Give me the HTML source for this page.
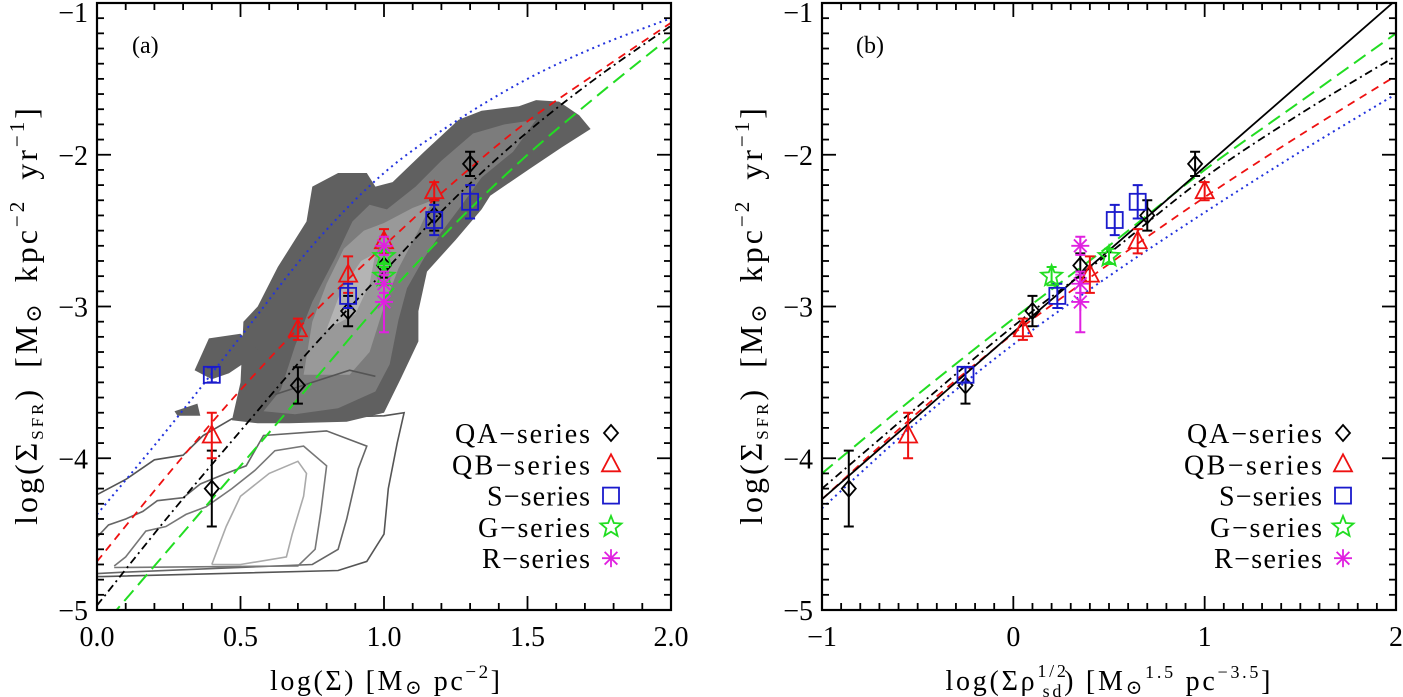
<!DOCTYPE html>
<html><head><meta charset="utf-8"><style>
html,body{margin:0;padding:0;background:#fff;}
svg{display:block;font-family:"Liberation Serif","DejaVu Serif",serif;}
</style></head><body>
<svg id="fig" width="1403" height="697" viewBox="0 0 1403 697" xmlns="http://www.w3.org/2000/svg">
<defs>
<clipPath id="clipA"><rect x="97" y="3" width="574" height="607"/></clipPath>
<clipPath id="clipB"><rect x="822" y="3" width="574" height="607"/></clipPath>
</defs>
</svg>
<script>
// ---------- data ----------
const qaY=[-4.2,-3.52,-3.03,-2.73,-2.4,-2.06];
const qaErr=[0.25,0.12,0.1,0.08,0.1,0.08];
const qaXa=[0.4,0.7,0.875,1.0,1.175,1.3];
const qaXb=[-0.86,-0.25,0.1,0.35,0.7,0.95];
const qbY=[-3.85,-3.15,-2.79,-2.57,-2.24];
const qbErr=[0.15,0.07,0.12,0.08,0.06];
const qbXa=[0.4,0.7,0.875,1.0,1.175];
const qbXb=[-0.55,0.05,0.4,0.65,1.0];
const sY=[-3.45,-2.93,-2.43,-2.31];
const sErr=[0.05,0.08,0.1,0.11];
const sXa=[0.4,0.875,1.175,1.3];
const sXb=[-0.25,0.23,0.53,0.65];
const gY=[-2.8,-2.67];
const gErr=[0.06,0.05];
const gXa=[1.0,1.0];
const gXb=[0.2,0.5];
const rY=[-2.97,-2.6,-2.85];
const rErr=[0.2,0.06,0.06];
const rXa=[1.0,1.0,1.0];
const rXb=[0.35,0.35,0.35];
// model curves panel a
const curveXa=[0,0.25,0.5,0.75,1,1.25,1.5,1.75,2];
const blueA=[-4.37,-3.8,-3.2,-2.6,-2.12,-1.78,-1.5,-1.28,-1.1];
const redA=[-4.68,-4.1,-3.55,-3.05,-2.6,-2.17,-1.78,-1.45,-1.13];
const blackA=[-4.97,-4.38,-3.82,-3.27,-2.77,-2.28,-1.85,-1.48,-1.15];
const greenA=[-5.15,-4.6,-4.05,-3.5,-2.95,-2.45,-2.0,-1.6,-1.22];
// model curves panel b
const curveXb=[-1,-0.5,0,0.5,1,1.5,2];
const solidB=[-4.27,-3.72,-3.17,-2.63,-2.08,-1.53,-0.98];
const greenB=[-4.1,-3.58,-3.08,-2.6,-2.1,-1.65,-1.2];
const blackB=[-4.2,-3.66,-3.13,-2.65,-2.15,-1.73,-1.35];
const redB=[-4.27,-3.7,-3.18,-2.72,-2.28,-1.87,-1.48];
const blueB=[-4.33,-3.76,-3.25,-2.8,-2.38,-1.98,-1.6];
// contours (data coords, panel a)
const fill1=[[0.47,-3.75],[0.5,-3.5],[0.51,-3.1],[0.56,-3.0],[0.63,-2.74],[0.73,-2.44],[0.75,-2.21],[0.84,-2.12],[0.94,-2.12],[0.97,-2.21],[1.03,-2.18],[1.14,-1.98],[1.26,-1.77],[1.34,-1.71],[1.47,-1.68],[1.53,-1.64],[1.61,-1.65],[1.68,-1.74],[1.72,-1.83],[1.62,-1.95],[1.51,-2.09],[1.37,-2.27],[1.34,-2.36],[1.25,-2.56],[1.15,-2.77],[1.12,-3.03],[1.12,-3.23],[1.06,-3.47],[1.0,-3.7],[0.87,-3.76],[0.67,-3.77],[0.56,-3.77]];
const island1=[[0.34,-3.42],[0.39,-3.21],[0.50,-3.18],[0.57,-3.30],[0.46,-3.44],[0.40,-3.48]];
const island2=[[0.27,-3.69],[0.35,-3.64],[0.36,-3.72],[0.28,-3.72]];
const fill2=[[0.58,-3.69],[0.64,-3.55],[0.69,-3.26],[0.75,-2.97],[0.83,-2.68],[0.89,-2.44],[0.95,-2.33],[1.01,-2.36],[1.11,-2.21],[1.2,-2.04],[1.31,-1.86],[1.42,-1.8],[1.53,-1.77],[1.45,-1.98],[1.34,-2.15],[1.26,-2.36],[1.2,-2.51],[1.14,-2.68],[1.08,-2.88],[1.05,-3.09],[1.02,-3.38],[0.97,-3.56],[0.84,-3.67],[0.69,-3.71]];
const fill3=[[0.72,-3.45],[0.75,-3.1],[0.8,-2.85],[0.86,-2.62],[0.93,-2.5],[1.0,-2.45],[1.1,-2.35],[1.17,-2.3],[1.12,-2.5],[1.05,-2.75],[1.0,-3.0],[0.95,-3.3],[0.88,-3.45]];
const fill4=[[0.8,-3.15],[0.85,-2.9],[0.92,-2.7],[0.97,-2.65],[0.95,-2.85],[0.9,-3.05]];
const line1=[[0,-4.24],[0.1,-4.14],[0.2,-4.01],[0.3,-3.98],[0.37,-3.85],[0.47,-3.74],[0.6,-3.74],[1.0,-3.72],[1.07,-3.7],[1.046,-3.9],[1.015,-4.2],[1.0,-4.5],[0.94,-4.68],[0.84,-4.74],[0.02,-4.78],[0,-4.78]];
const line2=[[0,-4.52],[0.04,-4.44],[0.1,-4.4],[0.16,-4.35],[0.21,-4.28],[0.3,-4.26],[0.36,-4.17],[0.45,-4.1],[0.52,-4.05],[0.58,-3.85],[0.8,-3.82],[0.94,-3.92],[0.91,-4.07],[0.87,-4.4],[0.84,-4.6],[0.75,-4.7],[0.1,-4.75],[0,-4.76]];
const line3=[[0.06,-4.71],[0.1,-4.65],[0.17,-4.48],[0.24,-4.45],[0.31,-4.37],[0.38,-4.32],[0.47,-4.2],[0.55,-4.08],[0.62,-3.95],[0.72,-3.92],[0.8,-4.05],[0.78,-4.35],[0.76,-4.6],[0.7,-4.71],[0.06,-4.72]];
const line4=[[0.4,-4.7],[0.45,-4.45],[0.5,-4.25],[0.6,-4.1],[0.7,-4.02],[0.73,-4.1],[0.72,-4.25],[0.68,-4.5],[0.66,-4.65],[0.5,-4.7],[0.4,-4.7]];
const line5=[[0.62,-3.58],[0.88,-3.42],[0.97,-3.46]];

const NS="http://www.w3.org/2000/svg";
const svg=document.getElementById('fig');
function el(tag,attrs,parent){const e=document.createElementNS(NS,tag);for(const k in attrs)e.setAttribute(k,attrs[k]);(parent||svg).appendChild(e);return e;}

const TOP=3,BOT=610;
function yS(v){return TOP+(-1-v)/4*(BOT-TOP);}
function mkX(x0,x1,v0,v1){return v=>x0+(v-v0)/(v1-v0)*(x1-x0);}
const xA=mkX(97,671,0,2), xB=mkX(822,1396,-1,2);

function smooth(xs,ys,xf){
  const p=xs.map((x,i)=>[xf(x),yS(ys[i])]);let d='M'+p[0][0]+' '+p[0][1];
  for(let i=0;i<p.length-1;i++){const p0=p[i-1]||p[i],p1=p[i],p2=p[i+1],p3=p[i+2]||p2;
    d+=` C${p1[0]+(p2[0]-p0[0])/6} ${p1[1]+(p2[1]-p0[1])/6} ${p2[0]-(p3[0]-p1[0])/6} ${p2[1]-(p3[1]-p1[1])/6} ${p2[0]} ${p2[1]}`;}
  return d;}
function poly(pts,xf){return pts.map(p=>xf(p[0]).toFixed(1)+','+yS(p[1]).toFixed(1)).join(' ');}

function axes(g,x0,x1,xmin,xmax,xmajor,xminor,xlabels,xf){
  el('rect',{x:x0,y:TOP,width:x1-x0,height:BOT-TOP,fill:'none',stroke:'#000','stroke-width':2.2},g);
  const tg=el('g',{stroke:'#000','stroke-width':1.8},g);
  
  const nx=Math.round((xmax-xmin)/xminor);
  for(let i=0;i<=nx;i++){const v=xmin+i*xminor;const px=xf(v);const maj=Math.abs(v/xmajor-Math.round(v/xmajor))<1e-6;const L=maj?14:7;
    el('line',{x1:px,y1:BOT,x2:px,y2:BOT-L},tg);el('line',{x1:px,y1:TOP,x2:px,y2:TOP+L},tg);}
  for(let i=0;i<=40;i++){const v=-5+i*0.1;const py=yS(v);const maj=i%10==0;const L=maj?14:7;
    el('line',{x1:x0,y1:py,x2:x0+L,y2:py},tg);el('line',{x1:x1,y1:py,x2:x1-L,y2:py},tg);}
  xlabels.forEach(([v,t])=>{const tx=el('text',{x:xf(v),y:646,'font-size':28,'text-anchor':'middle'},g);tx.textContent=t;
    });
  [-1,-2,-3,-4,-5].forEach(v=>{const tx=el('text',{x:x0-9,y:Math.max(yS(v)+10,22),'font-size':28,'text-anchor':'end'},g);tx.textContent='\u2212'+(-v);
    });
}

function marker(g,type,cx,cy,color){
  const a={fill:'none',stroke:color,'stroke-width':1.8};
  if(type=='d')return el('polygon',Object.assign({points:`${cx},${cy-8} ${cx+7},${cy} ${cx},${cy+8} ${cx-7},${cy}`},a),g);
  if(type=='t')return el('polygon',Object.assign({points:`${cx},${cy-10} ${cx+9},${cy+7} ${cx-9},${cy+7}`},a),g);
  if(type=='s')return el('rect',Object.assign({x:cx-8,y:cy-8,width:16,height:16},a),g);
  if(type=='g'){let pts=[];for(let i=0;i<10;i++){const r=i%2?4.8:11;const an=-Math.PI/2+i*Math.PI/5;pts.push((cx+r*Math.cos(an)).toFixed(1)+','+(cy+r*Math.sin(an)).toFixed(1));}
    return el('polygon',Object.assign({points:pts.join(' ')},a),g);}
  if(type=='r'){const gg=el('g',{stroke:color,'stroke-width':1.8},g);for(let i=0;i<4;i++){const an=i*Math.PI/4;el('line',{x1:cx-9*Math.cos(an),y1:cy-9*Math.sin(an),x2:cx+9*Math.cos(an),y2:cy+9*Math.sin(an)},gg);}return gg;}
}
function series(g,name,type,color,xs,ys,errs,xf){
  const sg=el('g',{},g);
  
  xs.forEach((x,i)=>{const px=xf(x),py=yS(ys[i]);const t=yS(ys[i]+errs[i]),b=yS(ys[i]-errs[i]);
    const e=el('path',{d:`M${px} ${t}V${b}M${px-5} ${t}H${px+5}M${px-5} ${b}H${px+5}`,stroke:color,'stroke-width':2,fill:'none'},sg);
    
    const m=marker(sg,type,px,py,color);
    });
}
function legend(g,xText,xMark){
  const items=[['QA\u2212series','d','#000',135],['QB\u2212series','t','#ee1111',138],['S\u2212series','s','#1a1acc',103],['G\u2212series','g','#22dd22',112],['R\u2212series','r','#e020e0',108]];
  items.forEach((it,i)=>{const y=433+i*31.3;
    const lg=el('g',{},g);
    const t=el('text',{x:xText,y:y+10,'font-size':28,'text-anchor':'end',textLength:it[3],lengthAdjust:'spacing'},lg);t.textContent=it[0];
    marker(lg,it[1],xMark,y,it[2]);});
}
function curve(g,name,xs,ys,xf,color,dash,w){
  const p=el('path',{d:smooth(xs,ys,xf),fill:'none',stroke:color,'stroke-width':w||1.8,'stroke-dasharray':dash||'none'},g);
  
}
const YT='log(\u03a3<tspan font-size="17" dy="6">SFR</tspan><tspan dy="-6">)  [M</tspan><tspan font-size="22" dy="4">\u2299</tspan><tspan dy="-4"> kpc</tspan><tspan font-size="21" dy="-13">\u22122</tspan><tspan dy="13">  yr</tspan><tspan font-size="21" dy="-13">\u22121</tspan><tspan dy="13">]</tspan>';

// ---------- panel a ----------
const gA=el('g',{});
const cA=el('g',{'clip-path':'url(#clipA)'},gA);
el('polyline',{points:poly(line1,xA),fill:'none',stroke:'#555','stroke-width':1.6},cA);
el('polyline',{points:poly(line2,xA),fill:'none',stroke:'#666','stroke-width':1.6},cA);
el('polyline',{points:poly(line3,xA),fill:'none',stroke:'#777','stroke-width':1.6},cA);
el('polyline',{points:poly(line4,xA),fill:'none',stroke:'#aaa','stroke-width':1.6},cA);
el('polygon',{points:poly(fill1,xA),fill:'#606060'},cA);
el('polygon',{points:poly(island1,xA),fill:'#606060'},cA);
el('polygon',{points:poly(island2,xA),fill:'#606060'},cA);
el('polygon',{points:poly(fill2,xA),fill:'#7c7c7c'},cA);
el('polygon',{points:poly(fill3,xA),fill:'#999'},cA);
el('polygon',{points:poly(fill4,xA),fill:'#b4b4b4'},cA);
el('polyline',{points:poly(line5,xA),fill:'none',stroke:'#555','stroke-width':1.6},cA);
const lA=el('g',{'clip-path':'url(#clipA)'},gA);
curve(lA,'blue-dotted-curve',curveXa,blueA,xA,'#2233dd','2 4',2);
curve(lA,'red-dashed-curve',curveXa,redA,xA,'#ee1111','8 6');
curve(lA,'black-dashdot-curve',curveXa,blackA,xA,'#000','8 4 2 4');
curve(lA,'green-dashed-curve',curveXa,greenA,xA,'#22dd22','14 7',2);
series(gA,'qa-series','d','#000',qaXa,qaY,qaErr,xA);
series(gA,'qb-series','t','#ee1111',qbXa,qbY,qbErr,xA);
series(gA,'s-series','s','#1a1acc',sXa,sY,sErr,xA);
series(gA,'g-series','g','#22dd22',gXa,gY,gErr,xA);
series(gA,'r-series','r','#e020e0',rXa,rY,rErr,xA);
axes(gA,97,671,0,2,0.5,0.1,[[0,'0.0'],[0.5,'0.5'],[1,'1.0'],[1.5,'1.5'],[2,'2.0']],xA);
legend(gA,590,611);
let t=el('text',{x:132,y:53,'font-size':24},gA);t.textContent='(a)';
t=el('text',{x:385,y:690,'font-size':28,'text-anchor':'middle',textLength:230,lengthAdjust:'spacing'},gA);
t.innerHTML='log(\u03a3)  [M<tspan font-size="20" dy="4">\u2299</tspan><tspan dy="-4"> pc</tspan><tspan font-size="19" dy="-12">\u22122</tspan><tspan dy="12">]</tspan>';

t=el('text',{x:0,y:0,'font-size':32,'letter-spacing':3,'word-spacing':8,'text-anchor':'middle',transform:'translate(37,315) rotate(-90)'},gA);
t.innerHTML=YT;


// ---------- panel b ----------
const gB=el('g',{});
const lB=el('g',{'clip-path':'url(#clipB)'},gB);
curve(lB,'blue-dotted-curve',curveXb,blueB,xB,'#2233dd','2 4',2);
curve(lB,'red-dashed-curve',curveXb,redB,xB,'#ee1111','8 6');
curve(lB,'black-dashdot-curve',curveXb,blackB,xB,'#000','8 4 2 4');
curve(lB,'green-dashed-curve',curveXb,greenB,xB,'#22dd22','14 7',2);
curve(lB,'black-solid-line',curveXb,solidB,xB,'#000','none',1.8);
series(gB,'qa-series','d','#000',qaXb,qaY,qaErr,xB);
series(gB,'qb-series','t','#ee1111',qbXb,qbY,qbErr,xB);
series(gB,'s-series','s','#1a1acc',sXb,sY,sErr,xB);
series(gB,'g-series','g','#22dd22',gXb,gY,gErr,xB);
series(gB,'r-series','r','#e020e0',rXb,rY,rErr,xB);
axes(gB,822,1396,-1,2,1,0.1,[[-1,'\u22121'],[0,'0'],[1,'1'],[2,'2']],xB);
legend(gB,1322,1343);
t=el('text',{x:856,y:53,'font-size':24},gB);t.textContent='(b)';
t=el('text',{x:1108,y:690,'font-size':28,'text-anchor':'middle',textLength:325,lengthAdjust:'spacing'},gB);
t.innerHTML='log(\u03a3\u03c1<tspan font-size="18" dy="-13">1/2</tspan><tspan font-size="18" dx="-26" dy="20">sd</tspan><tspan dy="-7">)  [M</tspan><tspan font-size="20" dy="4">\u2299</tspan><tspan font-size="18" dy="-16">1.5</tspan><tspan dy="12"> pc</tspan><tspan font-size="18" dy="-12">\u22123.5</tspan><tspan dy="12">]</tspan>';

t=el('text',{x:0,y:0,'font-size':32,'letter-spacing':3,'word-spacing':8,'text-anchor':'middle',transform:'translate(762,315) rotate(-90)'},gB);
t.innerHTML=YT;

</script>
</body></html>
